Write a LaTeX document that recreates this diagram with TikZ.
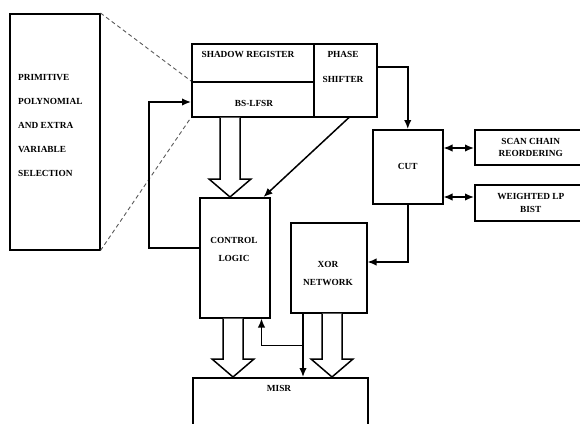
\documentclass[tikz,border=0pt]{standalone}
\usepackage{fontspec}
\setmainfont{Liberation Serif}
\usepackage{tikz}
\usetikzlibrary{arrows.meta, positioning, calc}

\newcommand{\hollowarrow}[2]{%
  \draw[fat] let \p1=(#1), \p2=(#2) in
    (\x1-10pt,\y1) -- (\x1-10pt,\y2+18pt) -- (\x1-21pt,\y2+18pt) -- (\x1,\y2)
    -- (\x1+21pt,\y2+18pt) -- (\x1+10pt,\y2+18pt) -- (\x1+10pt,\y1);}

\begin{document}
\begin{tikzpicture}[
    x=1pt, y=-1pt,
    font=\bfseries\fontsize{9.3}{11}\selectfont,
    box/.style={draw, line width=1.5pt, inner sep=0pt, anchor=north west, align=center},
    txt/.style={inner sep=0pt, align=center},
    arr/.style={-{Latex[length=9pt,width=7.5pt]}, line width=1.5pt},
    twoway/.style={{Latex[length=9pt,width=7.5pt]}-{Latex[length=9pt,width=7.5pt]}, line width=1.5pt},
    fat/.style={line width=1.5pt, fill=white, line join=miter},
    guide/.style={gray!70!black, line width=0.9pt, dash pattern=on 4pt off 3pt},
]
    \clip (0,0) rectangle (580,423);

    \node[box, minimum width=90pt, minimum height=236pt] (prim) at (9,13) {};
    \node[txt, anchor=west, align=left, font=\bfseries\fontsize{9.3}{24}\selectfont] (primtxt) at (18,125)
        {PRIMITIVE\\POLYNOMIAL\\AND EXTRA\\VARIABLE\\SELECTION};

    \node[box, minimum width=122pt, minimum height=38pt] (shadow) at (191,43) {};
    \node[box, minimum width=122pt, minimum height=35pt] (lfsr) at (191,81) {};
    \node[box, minimum width=63pt, minimum height=73pt] (phase) at (313,43) {};
    \node[txt] (shadowtxt) at (248,54) {SHADOW REGISTER};
    \node[txt] (lfsrtxt) at (254,103) {BS-LFSR};
    \node[txt, font=\bfseries\fontsize{9.3}{25}\selectfont] (phasetxt) at (343,66.5) {PHASE\\SHIFTER};

    \node[box, minimum width=70pt, minimum height=74pt] (cut) at (372,129) {CUT};
    \node[box, minimum width=112pt, minimum height=35pt, font=\bfseries\fontsize{9.3}{12.5}\selectfont] (scan) at (474,129) {SCAN CHAIN\\REORDERING};
    \node[box, minimum width=112pt, minimum height=36pt, font=\bfseries\fontsize{9.3}{13}\selectfont] (weight) at (474,184) {WEIGHTED LP\\BIST};

    \node[box, minimum width=70pt, minimum height=120pt] (ctrl) at (199,197) {};
    \node[txt, font=\bfseries\fontsize{9.3}{18}\selectfont] (ctrltxt) at (234,249) {CONTROL\\LOGIC};
    \node[box, minimum width=76pt, minimum height=90pt] (xor) at (290,222) {};
    \node[txt, font=\bfseries\fontsize{9.3}{18}\selectfont] (xortxt) at (328,273) {XOR\\NETWORK};
    \node[box, minimum width=175pt, minimum height=60pt] (misr) at (192,377) {};
    \node[txt] (misrtxt) at (279,388) {MISR};

    \draw[guide] (prim.north east) -- (lfsr.north west);
    \draw[guide] (prim.south east) -- (lfsr.south west);

    \hollowarrow{230,0 |- lfsr.south}{230,0 |- ctrl.north}
    \hollowarrow{233,0 |- ctrl.south}{233,0 |- misr.north}
    \hollowarrow{332,0 |- xor.south}{332,0 |- misr.north}

    \draw[arr] ($(phase.north east)+(0,24)$) -| (cut.north);
    \draw[arr] (cut.south) |- ($(xor.north east)+(0,40)$);
    \draw[arr] ($(phase.south west)+(36,0)$) -- ($(ctrl.north east)+(-7,0)$);
    \draw[arr] ($(ctrl.north west)+(0,51)$) -- ++(-50,0) |- ($(lfsr.north west)+(0,21)$);
    \draw[twoway] ($(cut.north east)+(0,19)$) -- ($(scan.north west)+(0,19)$);
    \draw[twoway] ($(cut.north east)+(0,68)$) -- ($(weight.north west)+(0,13)$);

    \coordinate (xo) at ($(xor.south west)+(13,0)$);
    \coordinate (br) at ($(xo)+(0,32)$);
    \draw[arr] (xo) -- (xo |- misr.north);
    \draw[arr] (br) -| ($(ctrl.south east)+(-9,0)$);
\end{tikzpicture}
\end{document}
